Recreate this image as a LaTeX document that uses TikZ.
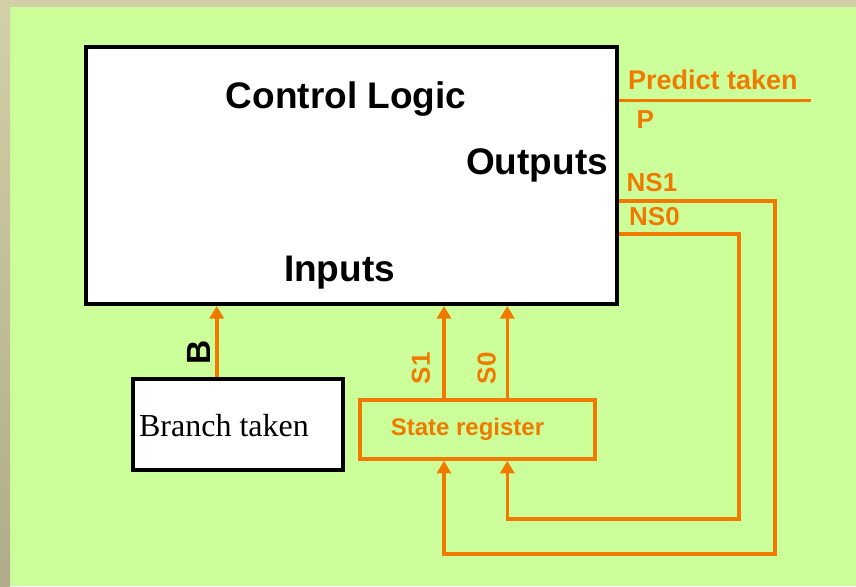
\documentclass[tikz,border=0pt]{standalone}
\usepackage{fontspec}
\setmainfont{Liberation Sans}
\newfontfamily\romanface{Liberation Serif}
\usetikzlibrary{arrows.meta,positioning}

\definecolor{bggreen}{RGB}{204,255,153}
\definecolor{sigorange}{RGB}{240,122,0}
\definecolor{frametop}{RGB}{211,207,167}
\definecolor{framebot}{RGB}{176,172,139}

\tikzset{
  block/.style={draw=black,line width=4pt,fill=white,inner sep=0pt},
  regbox/.style={draw=sigorange,line width=3.6pt,inner sep=0pt},
  sig/.style={draw=sigorange,line width=3.6pt},
  sigarrow/.style={sig,-{Triangle[width=14pt,length=12.5pt]}},
  blocklabel/.style={inner sep=0pt,anchor=base,font=\bfseries\fontsize{37}{42}\selectfont},
  siglabel/.style={inner sep=0pt,text=sigorange,font=\bfseries\fontsize{26}{30}\selectfont},
}

\begin{document}
\begin{tikzpicture}[x=1pt,y=-1pt]
% Background and frame strips
\useasboundingbox (0,0) rectangle (856,586);
\fill[bggreen] (0,0) rectangle (856,586);
\fill[frametop] (0,0) rectangle (856,7);
\shade[top color=frametop,bottom color=framebot] (0,0) rectangle (10,586);

% Blocks
\node[block,anchor=north west,minimum width=531pt,minimum height=257pt] (logic) at (84,45) {};
\node[block,anchor=north west,minimum width=209.4pt,minimum height=90.8pt] (branch) at (131.3,377.2) {};
\node[regbox,anchor=north west,minimum width=234.7pt,minimum height=59.2pt] (state) at (358.3,398) {};

% Block texts
\node[blocklabel] (ctrltitle) at (346,108.5) {Control Logic};
\node[blocklabel] (outtitle) at (537,174.5) {Outputs};
\node[blocklabel] (intitle) at (339.5,281) {Inputs};
\node[inner sep=0pt,anchor=base,font=\romanface\fontsize{32}{36}\selectfont] (branchtext) at (224,436) {Branch taken};
\node[siglabel,anchor=base,font=\bfseries\fontsize{24}{28}\selectfont] (statetext) at (467.5,435) {State register};

% Port positions
\coordinate (bx) at (216.7,0);
\coordinate (s1x) at (444,0);
\coordinate (s0x) at (507.3,0);
\coordinate (pend) at (810.7,100.3);
\coordinate (ns1a) at (775,201);
\coordinate (ns1b) at (775,553.7);
\coordinate (ns0a) at (738.7,233.8);
\coordinate (ns0b) at (738.7,519);

% Inputs
\draw[sigarrow] (branch.north -| bx) -- (logic.south -| bx);
\draw[sigarrow] (state.north -| s1x) -- (logic.south -| s1x);
\draw[sigarrow] (state.north -| s0x) -- (logic.south -| s0x);
\node[inner sep=0pt,rotate=90,font=\bfseries\fontsize{33.5}{38}\selectfont] (blabel) at (199.3,352.5) {B};
\node[siglabel,rotate=90] (s1label) at (420.8,368.3) {S1};
\node[siglabel,rotate=90] (s0label) at (486.7,368.3) {S0};

% Outputs and feedback
\draw[sig] (logic.east |- pend) -- (pend);
\draw[sigarrow] (logic.east |- ns1a) -- (ns1a) -- (ns1b) -| (state.south -| s1x);
\draw[sigarrow] (logic.east |- ns0a) -- (ns0a) -- (ns0b) -| (state.south -| s0x);
\node[siglabel,anchor=base west,font=\bfseries\fontsize{27}{31}\selectfont] (predtext) at (628,89.3) {Predict taken};
\node[siglabel,anchor=base west] (plabel) at (636.5,128.3) {P};
\node[siglabel,anchor=base west] (ns1label) at (626.5,191.7) {NS1};
\node[siglabel,anchor=base west] (ns0label) at (629,225.7) {NS0};
\end{tikzpicture}
\end{document}
